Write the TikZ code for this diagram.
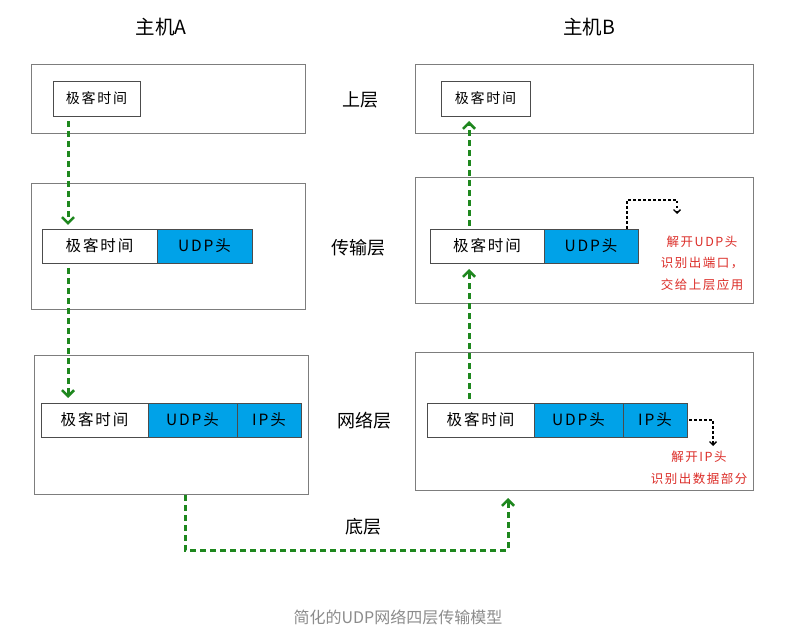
\documentclass[tikz,border=0pt]{standalone}
\usepackage{fontspec}
\setmainfont{Noto Sans CJK SC}
\newfontfamily\handfont[LetterSpace=12]{Noto Sans CJK SC}
\usetikzlibrary{positioning, arrows.meta}

\definecolor{udpblue}{RGB}{0,162,232}
\definecolor{flowgreen}{RGB}{30,135,30}
\definecolor{notered}{RGB}{220,45,40}
\definecolor{framegray}{RGB}{125,125,125}
\definecolor{captiongray}{RGB}{140,140,140}

\begin{document}
\begin{tikzpicture}[x=1pt, y=-1pt,
    layer/.style={draw=framegray, line width=0.9pt, anchor=north west, inner sep=0pt, outer sep=0pt},
    packet/.style={draw=black!70, line width=0.8pt, minimum height=34pt, inner sep=0pt, outer sep=0pt, font=\handfont\fontsize{15.5}{17}\selectfont},
    payload/.style={packet, fill=white},
    header/.style={packet, fill=udpblue},
    flow/.style={flowgreen, line width=3pt, dash pattern=on 6pt off 4pt, -{Straight Barb[length=6pt, width=12pt, line width=2.6pt]}},
    tap/.style={black, line width=1.3pt, dash pattern=on 2.5pt off 2.5pt, -{Straight Barb[length=3.5pt, width=7pt, line width=1.3pt]}},
    note/.style={notered, align=center, font=\handfont\fontsize{12.5}{21.5}\selectfont},
    layername/.style={font=\fontsize{18}{20}\selectfont},
  ]

  % Rahmen
  \fill[white] (0,0) rectangle (809,644);
  \useasboundingbox (0,0) rectangle (809,644);

  % 1. Ueberschriften
  \node[font=\fontsize{19.5}{21}\selectfont] (hostA) at (161,27) {主机A};
  \node[font=\fontsize{19.5}{21}\selectfont] (hostB) at (589,27) {主机B};

  % 2. Schichten von Host A
  \node[layer, minimum width=274pt, minimum height=69pt] (upA) at (31,64) {};
  \node[layer, minimum width=274pt, minimum height=126pt] (tpA) at (31,183) {};
  \node[layer, minimum width=274pt, minimum height=139pt] (nwA) at (34,355) {};

  % 3. Schichten von Host B
  \node[layer, minimum width=338pt, minimum height=69pt] (upB) at (415,64) {};
  \node[layer, minimum width=338pt, minimum height=126pt] (tpB) at (415,177) {};
  \node[layer, minimum width=338pt, minimum height=138pt] (nwB) at (415,352) {};

  % Schichtnamen in der Mitte
  \node[layername] (lblUp) at (360,100) {上层};
  \node[layername] (lblTp) at (358,248) {传输层};
  \node[layername] (lblNw) at (364,421) {网络层};
  \node[layername] (lblLow) at (363,527) {底层};

  % 4. Pakete Host A
  \node[payload, anchor=north west, minimum width=87pt, minimum height=35pt, font=\handfont\fontsize{14}{15}\selectfont] (dataA0) at (53,81) {极客时间};
  \node[payload, anchor=north west, minimum width=115pt] (dataA1) at (42,229) {极客时间};
  \node[header, right=0pt of dataA1, minimum width=95pt] (udpA1) {UDP头};
  \node[payload, anchor=north west, minimum width=107pt] (dataA2) at (41,403) {极客时间};
  \node[header, right=0pt of dataA2, minimum width=89pt] (udpA2) {UDP头};
  \node[header, right=0pt of udpA2, minimum width=64pt] (ipA2) {IP头};

  % 5. Pakete Host B
  \node[payload, anchor=north west, minimum width=89pt, minimum height=35pt, font=\handfont\fontsize{14}{15}\selectfont] (dataB0) at (441,81) {极客时间};
  \node[payload, anchor=north west, minimum width=114pt] (dataB1) at (430,229) {极客时间};
  \node[header, right=0pt of dataB1, minimum width=94pt] (udpB1) {UDP头};
  \node[payload, anchor=north west, minimum width=107pt] (dataB2) at (427,403) {极客时间};
  \node[header, right=0pt of dataB2, minimum width=89pt] (udpB2) {UDP头};
  \node[header, right=0pt of udpB2, minimum width=64pt] (ipB2) {IP头};

  % Hinweise (rot)
  \node[note] (noteUdp) at (702,263) {解开UDP头\\识别出端口，\\交给上层应用};
  \node[note] (noteIp) at (699,468) {解开IP头\\识别出数据部分};

  % 6. Hilfspunkte fuer die Pfeile
  \coordinate (colA) at (68,0);
  \coordinate (colB) at (469,0);
  \coordinate (downA) at (185,0);
  \coordinate (upAtB) at (508,550);
  \coordinate (tapUdp) at (627,0);
  \coordinate (hookUdp) at (677,200);
  \coordinate (tipUdp) at (677,214);
  \coordinate (tipIp) at (713,446);

  % 7. Datenfluss (gruen gestrichelt)
  \draw[flow, shorten <=5pt, shorten >=4pt] (dataA0.south -| colA) -- (dataA1.north -| colA);
  \draw[flow, shorten <=5pt, shorten >=5pt] (dataA1.south -| colA) -- (dataA2.north -| colA);
  \draw[flow, shorten <=1pt, shorten >=8pt] (nwA.south -| downA) |- (upAtB) -- (nwB.south -| upAtB);
  \draw[flow, shorten <=4pt, shorten >=6pt] (dataB2.north -| colB) -- (dataB1.south -| colB);
  \draw[flow, shorten <=3pt, shorten >=5pt] (dataB1.north -| colB) -- (dataB0.south -| colB);

  % 8. Entpacken (schwarz gepunktet)
  \draw[tap] (udpB1.north -| tapUdp) |- (hookUdp) -- (tipUdp);
  \draw[tap, shorten <=2pt] (ipB2.east) -| (tipIp);

  % Bildunterschrift
  \node[text=captiongray, font=\fontsize{16}{18}\selectfont] (caption) at (398,617) {简化的UDP网络四层传输模型};

\end{tikzpicture}
\end{document}
